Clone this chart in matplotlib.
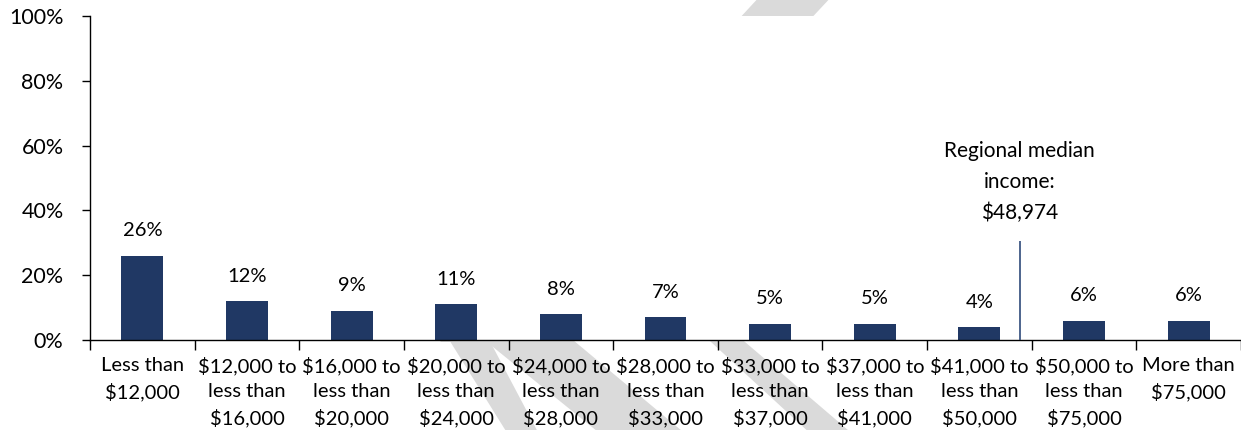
import matplotlib
matplotlib.use("Agg")
import matplotlib.pyplot as plt
from matplotlib.patches import Polygon
from matplotlib.ticker import FixedLocator, PercentFormatter

# Household income distribution
categories = [
    "Less than\n$12,000",
    "$12,000 to\nless than\n$16,000",
    "$16,000 to\nless than\n$20,000",
    "$20,000 to\nless than\n$24,000",
    "$24,000 to\nless than\n$28,000",
    "$28,000 to\nless than\n$33,000",
    "$33,000 to\nless than\n$37,000",
    "$37,000 to\nless than\n$41,000",
    "$41,000 to\nless than\n$50,000",
    "$50,000 to\nless than\n$75,000",
    "More than\n$75,000",
]
shares = [26, 12, 9, 11, 8, 7, 5, 5, 4, 6, 6]  # percent of households
bin_lower = [0, 12000, 16000, 20000, 24000, 28000, 33000, 37000, 41000, 50000, 75000]
bin_upper = [12000, 16000, 20000, 24000, 28000, 33000, 37000, 41000, 50000, 75000, None]
median_income = 48974

BAR = "#203864"
W, H = 1241, 430

plt.rcParams["font.family"] = ["Lato", "DejaVu Sans"]

fig = plt.figure(figsize=(W / 100, H / 100), dpi=100)
fig.patch.set_facecolor("white")

# light grey "draft" stripes behind the chart (pixel coords, y measured from top)
watermark_shapes = [
    [(762, -6), (834, -6), (508, 342), (440, 342)],
    [(443, 330), (484, 330), (540, 436), (509, 436)],
    [(472, 330), (561, 330), (688, 436), (603, 436)],
    [(698, 330), (731, 330), (855, 436), (813, 436)],
]
for shape in watermark_shapes:
    pts = [(x / W, 1 - y / H) for x, y in shape]
    fig.patches.append(Polygon(pts, closed=True, transform=fig.transFigure,
                               facecolor="#DADADA", edgecolor="none", zorder=-5))

ax = fig.add_axes([90 / W, (H - 340) / H, (W - 90) / W, (340 - 16) / H])
ax.set_facecolor("white")

x = list(range(len(categories)))
vals = [v / 100 for v in shares]
ax.bar(x, vals, width=0.40, color=BAR, zorder=2)

for xi, v, s in zip(x, vals, shares):
    ax.annotate(f"{s}%", (xi, v), xytext=(0, 18), textcoords="offset points",
                ha="center", va="center", fontsize=14.5, color="black")

# regional median marker, placed inside its income bin
for i, (lo, hi) in enumerate(zip(bin_lower, bin_upper)):
    if hi is not None and lo <= median_income < hi:
        mx = i - 0.5 + (median_income - lo) / (hi - lo)
        break
ax.vlines(mx, 0, 0.305, color="#2F4A7A", linewidth=1.2, zorder=3)
ax.text(mx, 0.488, f"Regional median\nincome:\n${median_income:,}",
        ha="center", va="center", fontsize=15, linespacing=1.66)

ax.set_xlim(-0.5, len(categories) - 0.5)
ax.set_ylim(0, 1)

ax.set_xticks(x)
ax.set_xticklabels(categories, fontsize=14.5, linespacing=1.55)
ax.xaxis.set_minor_locator(FixedLocator([i - 0.5 for i in range(len(categories) + 1)]))
ax.tick_params(axis="x", which="major", length=0, pad=12)
ax.tick_params(axis="x", which="minor", length=7, width=1, direction="out", color="black")

ax.set_yticks([0, 0.2, 0.4, 0.6, 0.8, 1.0])
ax.yaxis.set_major_formatter(PercentFormatter(1.0, decimals=0))
ax.tick_params(axis="y", length=6, width=1, direction="out", pad=13, labelsize=15.5)

for side in ("top", "right"):
    ax.spines[side].set_visible(False)
for side in ("left", "bottom"):
    ax.spines[side].set_linewidth(1)
    ax.spines[side].set_color("black")

fig.savefig("out.png", dpi=100, facecolor="white")
